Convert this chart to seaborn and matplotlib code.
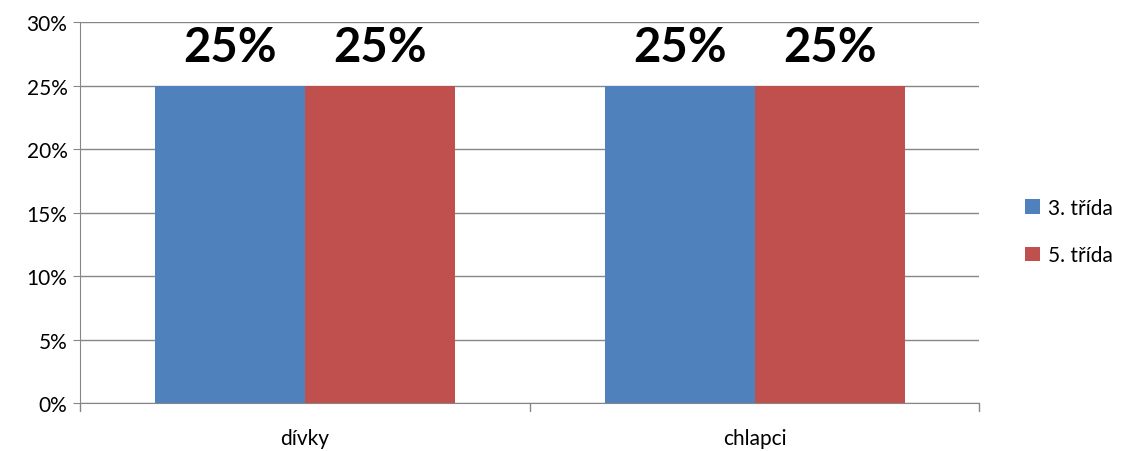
import seaborn as sns
import matplotlib.pyplot as plt
import pandas as pd

categories = ['dívky', 'chlapci']
series = ['3. třída', '5. třída']
values_3 = [0.25, 0.25]
values_5 = [0.25, 0.25]
colors = ['#4F81BD', '#C0504D']

df = pd.DataFrame({
    'kategorie': categories * 2,
    'třída': [series[0]] * 2 + [series[1]] * 2,
    'podíl': values_3 + values_5,
})

sns.set_style('white')
plt.rcParams['font.family'] = ['Lato', 'DejaVu Sans']

fig = plt.figure(figsize=(11.23, 4.52), dpi=100)
ax = fig.add_axes([0.0712, 0.106, 0.801, 0.843])

sns.barplot(data=df, x='kategorie', y='podíl', hue='třída', palette=colors,
            width=0.667, saturation=1, linewidth=0, ax=ax, zorder=3)

ax.set_ylim(0, 0.30)
ax.set_xlim(-0.5, 1.5)
ax.set_yticks([0, 0.05, 0.10, 0.15, 0.20, 0.25, 0.30])
ax.set_yticklabels(['0%', '5%', '10%', '15%', '20%', '25%', '30%'], fontsize=15, color='black')
ax.yaxis.grid(True, color='#868686', lw=1, zorder=0)
ax.set_axisbelow(True)

ax.set_xticks([0, 1])
ax.set_xticklabels(categories, fontsize=15, color='black')
ax.tick_params(axis='x', length=0, pad=18)
ax.tick_params(axis='y', left=True, length=5, color='#868686', pad=4)
for x in [-0.5, 0.5, 1.5]:
    ax.plot([x, x], [0, -0.006], color='#868686', lw=1, clip_on=False)

for s in ['top', 'right']:
    ax.spines[s].set_visible(False)
for s in ['left', 'bottom']:
    ax.spines[s].set_color('#868686')

ax.set_xlabel('')
ax.set_ylabel('')

for cont in ax.containers:
    ax.bar_label(cont, labels=['{:.0f}%'.format(v * 100) for v in cont.datavalues],
                 fontsize=34, fontweight='bold', color='black', padding=12)

handles, labels = ax.get_legend_handles_labels()
ax.legend(handles, labels, loc='center left', bbox_to_anchor=(1.03, 0.45),
          frameon=False, fontsize=15, handlelength=0.7, handleheight=0.7,
          labelspacing=1.3, handletextpad=0.4, labelcolor='black')

fig.savefig('out.png', dpi=100)
